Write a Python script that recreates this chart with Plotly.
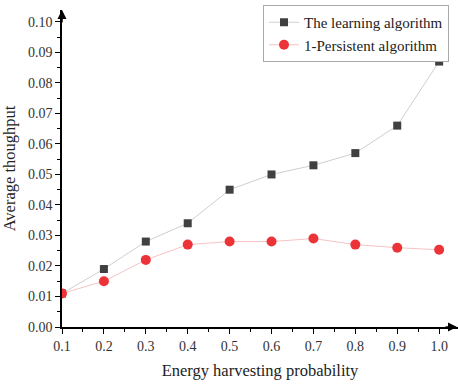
import plotly.graph_objects as go

x_vals = [0.1, 0.2, 0.3, 0.4, 0.5, 0.6, 0.7, 0.8, 0.9, 1.0]
learning = [0.011, 0.019, 0.028, 0.034, 0.045, 0.050, 0.053, 0.057, 0.066, 0.087]
persistent = [0.011, 0.015, 0.022, 0.027, 0.028, 0.028, 0.029, 0.027, 0.026, 0.0253]
x_ticks = [0.1, 0.2, 0.3, 0.4, 0.5, 0.6, 0.7, 0.8, 0.9, 1.0]
x_tick_labels = ["0.1", "0.2", "0.3", "0.4", "0.5", "0.6", "0.7", "0.8", "0.9", "1.0"]

font_family = "Liberation Serif"

fig = go.Figure()
fig.add_trace(go.Scatter(
    x=x_vals, y=learning, mode="lines+markers", name="The learning algorithm",
    line=dict(color="#cfcfcf", width=1),
    marker=dict(symbol="square", size=8, color="#404040"),
))
fig.add_trace(go.Scatter(
    x=x_vals, y=persistent, mode="lines+markers", name="1-Persistent algorithm",
    line=dict(color="#f6c3c3", width=1),
    marker=dict(symbol="circle", size=10, color="#ec3338"),
))

axis_common = dict(
    showline=True, linecolor="black", linewidth=1.5, showgrid=False, zeroline=False,
    automargin=False,
    ticks="outside", ticklen=5, tickwidth=1.2, tickcolor="black",
    tickfont=dict(family=font_family, size=14, color="#333"),
)

plot_h = 384 - 10 - 57

fig.update_layout(
    width=458, height=384,
    margin=dict(l=62, r=0, t=10, b=57, autoexpand=False),
    paper_bgcolor="white", plot_bgcolor="white",
    font=dict(family=font_family, size=14, color="#222"),
    showlegend=True,
    legend=dict(
        x=(263 - 62) / 396, xanchor="left", y=1 + 5 / plot_h, yanchor="top",
        bgcolor="white", bordercolor="#aaa", borderwidth=1,
        font=dict(family=font_family, size=15, color="#222"),
        tracegroupgap=0, itemwidth=30,
    ),
    xaxis=dict(
        axis_common,
        range=[0.1, 1.045],
        tickvals=x_ticks, ticktext=x_tick_labels,
        minor=dict(ticks="outside", ticklen=3, tickcolor="black", tick0=0.15, dtick=0.1),
        title=dict(text="Energy harvesting probability", font=dict(family=font_family, size=16.5, color="#222"), standoff=12),
    ),
    yaxis=dict(
        axis_common,
        range=[0, 0.1039],
        tick0=0, dtick=0.01, tickformat=".2f",
        minor=dict(ticks="outside", ticklen=3, tickcolor="black", tick0=0.005, dtick=0.01),
        title=dict(text="Average thoughput", font=dict(family=font_family, size=16.5, color="#222"), standoff=8),
    ),
    annotations=[
        dict(xref="paper", yref="paper", x=0, y=1.0, ax=0, ay=14,
             showarrow=True, arrowhead=2, arrowsize=1.2, arrowwidth=1.5, arrowcolor="black", text=""),
        dict(xref="paper", yref="paper", x=1.0, y=0, ax=-14, ay=0,
             showarrow=True, arrowhead=2, arrowsize=1.2, arrowwidth=1.5, arrowcolor="black", text=""),
    ],
)

fig.write_html("out.html", config={"displayModeBar": False},
               post_script="document.body.style.margin='0';")
